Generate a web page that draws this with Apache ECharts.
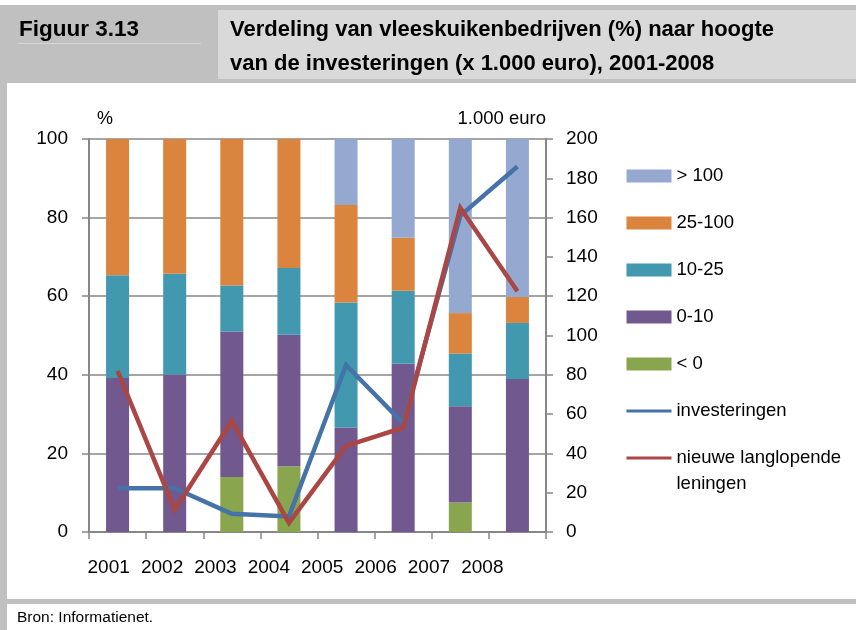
<!DOCTYPE html>
<html>
<head>
<meta charset="utf-8">
<script src="https://cdn.jsdelivr.net/npm/echarts@6/dist/echarts.min.js"></script>
<style>
html,body{margin:0;padding:0;background:#fff;}
#c{width:856px;height:630px;}
</style>
</head>
<body>
<div id="c"></div>
<script>
const years = ['2001','2002','2003','2004','2005','2006','2007','2008'];
const lt0     = [0, 0, 14.0, 16.7, 0, 0, 7.5, 0];
const b0_10   = [39.2, 40.1, 37.0, 33.5, 26.6, 42.8, 24.5, 38.9];
const b10_25  = [26.1, 25.6, 11.7, 17.0, 31.8, 18.6, 13.4, 14.3];
const b25_100 = [34.7, 34.3, 37.3, 32.8, 24.8, 13.5, 10.3, 6.6];
const gt100   = [0, 0, 0, 0, 16.8, 25.1, 44.3, 40.2];
const investeringen = [22.3, 22.3, 9.3, 7.9, 85, 55.3, 161, 186];
const leningen      = [82, 11.3, 56.5, 4.6, 43.8, 53.1, 165, 122.5];
const leftAxis  = {min: 0, max: 100, interval: 20, name: '%'};
const rightAxis = {min: 0, max: 200, interval: 20, name: '1.000 euro'};
const names = ['> 100', '25-100', '10-25', '0-10', '< 0', 'investeringen', 'nieuwe langlopende\nleningen'];
const colors = {gt100:'#95a9d0', b25_100:'#db843d', b10_25:'#4198af', b0_10:'#71588f', lt0:'#89a54e', inv:'#4572a7', len:'#aa4643'};

const FONT = "'Liberation Sans', Arial, sans-serif";
const axisGray = '#878787';
const chart = echarts.init(document.getElementById('c'), null, {renderer: 'canvas'});

function bar(name, data, color) {
  return {name, type: 'bar', stack: 'pct', data, barWidth: 23, xAxisIndex: 0, yAxisIndex: 0,
    itemStyle: {color}, emphasis: {disabled: true}};
}
function line(name, data, color) {
  return {name, type: 'line', data, xAxisIndex: 0, yAxisIndex: 1, symbol: 'none',
    lineStyle: {color, width: 4.5, join: 'miter'}, itemStyle: {color}, emphasis: {disabled: true}, z: 5};
}

chart.setOption({
  animation: false,
  backgroundColor: '#ffffff',
  textStyle: {fontFamily: FONT},
  graphic: [
    {type: 'rect', shape: {x: 0, y: 5, width: 856, height: 78}, style: {fill: '#c0c0c0'}, z: -10},
    {type: 'rect', shape: {x: 0, y: 83, width: 7, height: 547}, style: {fill: '#c0c0c0'}, z: -10},
    {type: 'rect', shape: {x: 0, y: 599, width: 856, height: 5}, style: {fill: '#c0c0c0'}, z: -10},
    {type: 'rect', shape: {x: 218, y: 10, width: 638, height: 69}, style: {fill: '#d9d9d9'}, z: -9},
    {type: 'line', shape: {x1: 18, y1: 43.5, x2: 201, y2: 43.5}, style: {stroke: '#d6d6d6', lineWidth: 1}, z: -9},
    {type: 'text', x: 19, y: 29.5, style: {text: 'Figuur 3.13', font: 'bold 22.5px ' + FONT, fill: '#000', verticalAlign: 'middle'}},
    {type: 'text', x: 230, y: 47, style: {text: 'Verdeling van vleeskuikenbedrijven (%) naar hoogte\nvan de investeringen (x 1.000 euro), 2001-2008', font: 'bold 22px ' + FONT, fill: '#000', verticalAlign: 'middle', lineHeight: 34}},
    {type: 'text', x: 17, y: 618, style: {text: 'Bron: Informatienet.', font: '15.5px ' + FONT, fill: '#000', verticalAlign: 'middle'}}
  ],
  grid: [
    {left: 89, right: 310, top: 139, bottom: 98, containLabel: false},
    {left: 82, width: 427, top: 139, bottom: 98, containLabel: false}
  ],
  legend: [
    {
      orient: 'vertical', left: 620, top: 161.5, itemWidth: 45, itemHeight: 13, itemGap: 28,
      textStyle: {fontSize: 18.5, color: '#000', fontFamily: FONT},
      data: [
        {name: names[0], icon: 'rect'},
        {name: names[1], icon: 'rect'},
        {name: names[2], icon: 'rect'},
        {name: names[3], icon: 'rect'},
        {name: names[4], icon: 'rect'},
        {name: names[5], lineStyle: {width: 3, opacity: 1}, itemStyle: {opacity: 0}}
      ]
    },
    {
      orient: 'vertical', left: 620, top: 414, itemWidth: 45, itemHeight: 13,
      textStyle: {fontSize: 18.5, color: '#000', fontFamily: FONT, lineHeight: 26},
      formatter: function (name) { return '\n' + name; },
      data: [
        {name: names[6], lineStyle: {width: 3, opacity: 1}, itemStyle: {opacity: 0}}
      ]
    }
  ],
  xAxis: [
    {type: 'category', gridIndex: 0, data: years, boundaryGap: true,
      axisLine: {show: true, lineStyle: {color: axisGray, width: 2}},
      axisTick: {show: true, length: 7, lineStyle: {color: axisGray, width: 1.5}},
      axisLabel: {show: false}},
    {type: 'category', gridIndex: 1, data: years, boundaryGap: true,
      axisLine: {show: false}, axisTick: {show: false},
      axisLabel: {show: true, interval: 0, margin: 26, fontSize: 19, color: '#000', fontFamily: FONT}}
  ],
  yAxis: [
    {type: 'value', gridIndex: 0, min: leftAxis.min, max: leftAxis.max, interval: leftAxis.interval,
      name: leftAxis.name, nameLocation: 'end', nameGap: 20,
      nameTextStyle: {fontSize: 18, color: '#000', align: 'left', verticalAlign: 'middle', padding: [0, 0, 0, 8]},
      axisLine: {show: true, lineStyle: {color: axisGray, width: 2}},
      axisTick: {show: true, length: 7, lineStyle: {color: axisGray, width: 1.5}},
      axisLabel: {margin: 21, fontSize: 19, color: '#000', fontFamily: FONT},
      splitLine: {show: true, lineStyle: {color: axisGray, width: 1.5}}},
    {type: 'value', gridIndex: 0, position: 'right', min: rightAxis.min, max: rightAxis.max, interval: rightAxis.interval,
      name: rightAxis.name, nameLocation: 'end', nameGap: 20,
      nameTextStyle: {fontSize: 18.5, color: '#000', align: 'right', verticalAlign: 'middle'},
      axisLine: {show: true, lineStyle: {color: axisGray, width: 2}},
      axisTick: {show: true, length: 7, lineStyle: {color: axisGray, width: 1.5}},
      axisLabel: {margin: 20, fontSize: 19, color: '#000', fontFamily: FONT},
      splitLine: {show: false}},
    {type: 'value', gridIndex: 1, show: false, min: 0, max: 100}
  ],
  series: [
    bar(names[4], lt0, colors.lt0),
    bar(names[3], b0_10, colors.b0_10),
    bar(names[2], b10_25, colors.b10_25),
    bar(names[1], b25_100, colors.b25_100),
    bar(names[0], gt100, colors.gt100),
    line(names[5], investeringen, colors.inv),
    line(names[6], leningen, colors.len)
  ]
});
</script>
</body>
</html>
